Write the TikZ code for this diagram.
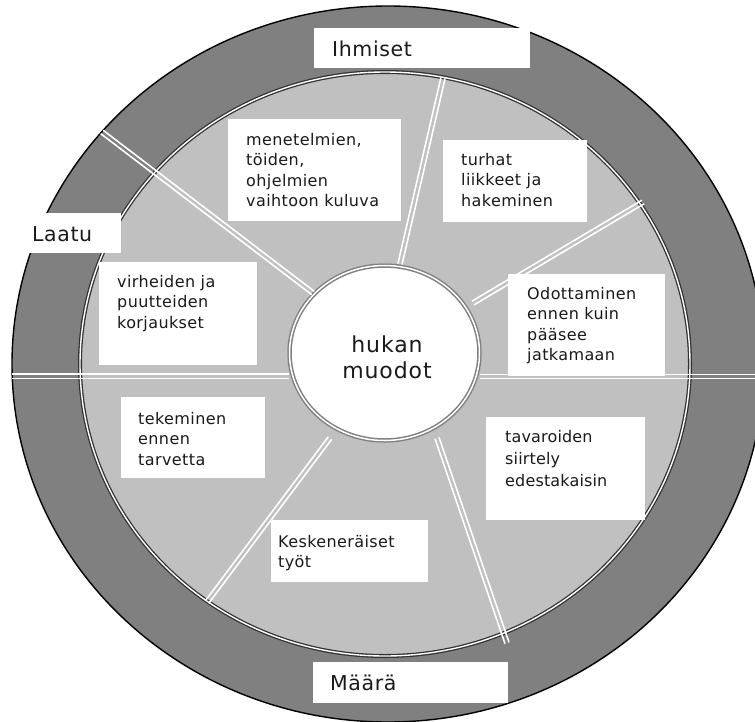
\documentclass[tikz,border=0pt]{standalone}
\usepackage{fontspec}
\setmainfont{DejaVu Sans}
\usetikzlibrary{calc}

\definecolor{ringdark}{HTML}{808080}
\definecolor{ringlight}{HTML}{C0C0C0}
\definecolor{hubline}{HTML}{808080}
\definecolor{ink}{HTML}{1A1A1A}

% a spoke: two thin white lines running side by side between two points
\newcommand\spokepair[2]{%
  \draw[spokeline] ($(#1)!2.1pt!90:(#2)$) -- ($(#2)!2.1pt!-90:(#1)$);
  \draw[spokeline] ($(#1)!2.1pt!-90:(#2)$) -- ($(#2)!2.1pt!90:(#1)$);}

% stacked lines whose baseline is the first line
\newcommand\linesL[1]{\begin{tabular}[t]{@{}l@{}}#1\end{tabular}}
\newcommand\linesC[1]{\begin{tabular}[t]{@{}c@{}}#1\end{tabular}}

\tikzset{
  ringlabel/.style={anchor=base west, inner sep=0pt, text=ink,
    font=\fontsize{20.5}{24}\selectfont\addfontfeatures{LetterSpace=3}},
  boxtext/.style={anchor=base west, inner sep=0pt, text=ink,
    font=\fontsize{16}{20.5}\selectfont\addfontfeatures{LetterSpace=2.5}},
  hubtext/.style={anchor=base, inner sep=0pt, text=ink,
    font=\fontsize{22}{26.3}\selectfont\addfontfeatures{LetterSpace=4}},
  whitebox/.style={fill=white},
  spokeline/.style={white, line width=1.6pt},
}

\begin{document}
\begin{tikzpicture}[x=1pt,y=-1pt]
\useasboundingbox (0,0) rectangle (755,721);
\clip (0,0) rectangle (755,721);

% outer ring
\fill[ringdark] (388,364) ellipse [x radius=376, y radius=358];
\draw[black, line width=1.4pt] (388,364) ellipse [x radius=376, y radius=358];

% middle ring
\fill[ringlight] (385,364) ellipse [x radius=306, y radius=293];
\draw[black!80, double=white, double distance=1.4pt, line width=1.3pt]
  (385,364) ellipse [x radius=305, y radius=292];

% hub
\fill[white] (384.5,353) ellipse [x radius=97, y radius=89.5];
\draw[hubline, double=white, double distance=1.5pt, line width=1.5pt]
  (384.5,353) ellipse [x radius=95, y radius=87.5];

% spoke end points
\coordinate (s1a) at (102,132);   \coordinate (s1b) at (313,293);
\coordinate (s2a) at (443,78);    \coordinate (s2b) at (400,264);
\coordinate (s3a) at (643,202);   \coordinate (s3b) at (473,303);
\coordinate (s4a) at (480,376.5); \coordinate (s4b) at (760,376.5);
\coordinate (s5a) at (12,376.3);  \coordinate (s5b) at (289,376.3);
\coordinate (s6a) at (437,438);   \coordinate (s6b) at (507,643);
\coordinate (s7a) at (330,438);   \coordinate (s7b) at (207,602);

\spokepair{s1a}{s1b}
\spokepair{s2a}{s2b}
\spokepair{s3a}{s3b}
\spokepair{s4a}{s4b}
\spokepair{s5a}{s5b}
\spokepair{s6a}{s6b}
\spokepair{s7a}{s7b}

% label boxes
\fill[whitebox] (314,28) rectangle (530,68);
\fill[whitebox] (20,213) rectangle (121,253);
\fill[whitebox] (313,662) rectangle (508,703);
\fill[whitebox] (228,119) rectangle (401,221);
\fill[whitebox] (443,140) rectangle (587,222);
\fill[whitebox] (508,274) rectangle (665,376);
\fill[whitebox] (99,262) rectangle (257,365);
\fill[whitebox] (121,397) rectangle (265,478);
\fill[whitebox] (271,520) rectangle (428,582);
\fill[whitebox] (486,417) rectangle (645,520);

% ring labels
\node[ringlabel] (ihmiset) at (332,56) {Ihmiset};
\node[ringlabel] (laatu) at (32,241) {Laatu};
\node[ringlabel] (maara) at (330,690) {Määrä};

% waste types
\node[boxtext] (vaihto) at (246,145)
  {\linesL{menetelmien,\\töiden,\\ohjelmien\\vaihtoon kuluva}};
\node[boxtext] (liike) at (461,165)
  {\linesL{turhat\\liikkeet ja\\hakeminen}};
\node[boxtext] (odotus) at (527,299)
  {\linesL{Odottaminen\\ennen kuin\\pääsee\\jatkamaan}};
\node[boxtext] (virhe) at (117,287)
  {\linesL{virheiden ja\\puutteiden\\korjaukset}};
\node[boxtext] (ennen) at (138,424)
  {\linesL{tekeminen\\ennen\\tarvetta}};
\node[boxtext] (kesken) at (278,547)
  {\linesL{Keskeneräiset\\työt}};
\node[boxtext, font=\fontsize{16}{22}\selectfont\addfontfeatures{LetterSpace=1}] (siirto) at (505,442)
  {\linesL{tavaroiden\\siirtely\\edestakaisin}};

% hub text
\node[hubtext] (hub) at (387,352) {\linesC{hukan\\muodot}};
\end{tikzpicture}
\end{document}
